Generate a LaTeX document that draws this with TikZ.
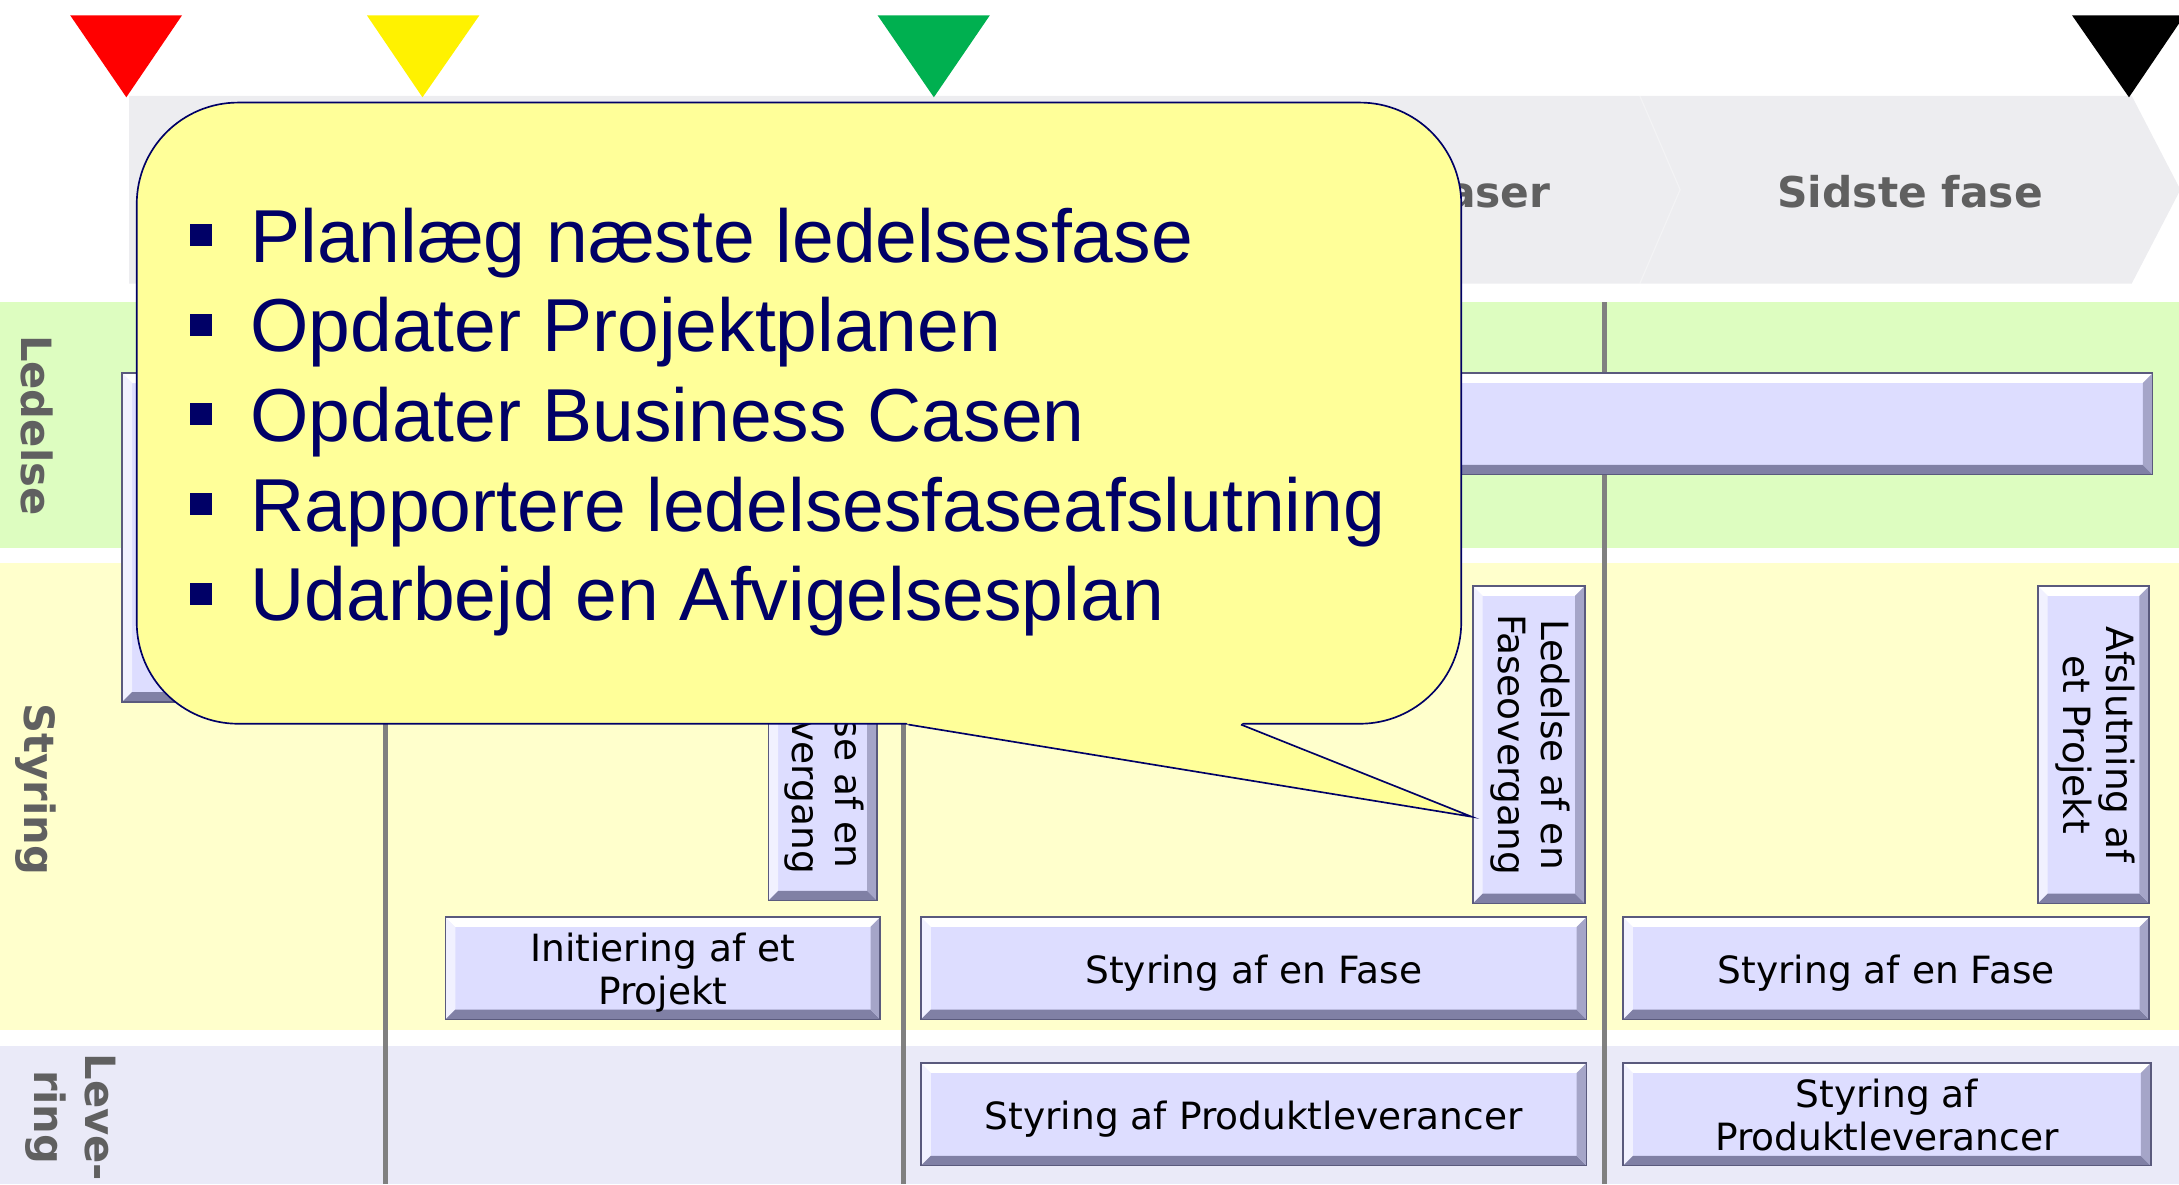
\documentclass[tikz,border=0pt]{standalone}
\usepackage{fontspec}
\usepackage{tikz}
\newfontfamily\notefont{Liberation Sans}
\newfontfamily\boxfont{DejaVu Sans}

\definecolor{bandgrey}{RGB}{237,237,240}
\definecolor{lanegreen}{RGB}{221,253,192}
\definecolor{laneyellow}{RGB}{255,255,204}
\definecolor{lanelilac}{RGB}{234,234,248}
\definecolor{boxfill}{RGB}{221,221,255}
\definecolor{boxline}{RGB}{90,90,125}
\definecolor{bevdark}{RGB}{128,128,165}
\definecolor{bevside}{RGB}{165,165,200}
\definecolor{labelgrey}{RGB}{96,96,96}
\definecolor{notefill}{RGB}{255,255,153}
\definecolor{navy}{RGB}{0,0,102}
\definecolor{msgreen}{RGB}{0,176,80}

\tikzset{
	bevel/.style={path picture={
		\path (path picture bounding box.north west) coordinate (bnw)
			(path picture bounding box.north east) coordinate (bne)
			(path picture bounding box.south west) coordinate (bsw)
			(path picture bounding box.south east) coordinate (bse);
		\fill[white] (bnw) -- (bne) -- ([shift={(-7,-7)}]bne) -- ([shift={(7,-7)}]bnw) -- cycle;
		\fill[white, opacity=.6] (bnw) -- ([shift={(7,-7)}]bnw) -- ([shift={(7,7)}]bsw) -- (bsw) -- cycle;
		\fill[bevdark] (bsw) -- (bse) -- ([shift={(-7,7)}]bse) -- ([shift={(7,7)}]bsw) -- cycle;
		\fill[bevside] (bse) -- (bne) -- ([shift={(-7,-7)}]bne) -- ([shift={(-7,7)}]bse) -- cycle;
	}},
	procbox/.style={draw=boxline, line width=1.2pt, fill=boxfill, bevel, inner sep=0pt, align=center,
		font={\boxfont\fontsize{27}{31}\selectfont}},
	lanelabel/.style={text=labelgrey, rotate=-90, align=center, inner sep=0pt,
		font={\boxfont\bfseries\fontsize{30}{37}\selectfont}},
	phase/.style={text=labelgrey, inner sep=0pt, font={\boxfont\bfseries\fontsize{30.5}{36}\selectfont}},
	stageline/.style={draw=gray, line width=3.6pt},
	bubble/.style={draw=navy, line width=1.2pt, fill=notefill},
	point/.style={text=navy, anchor=base west, inner sep=0pt, font={\notefont\fontsize{54}{64.5}\selectfont}}
}
\newcommand{\sqbullet}{\textcolor{navy}{\rule[11.6pt]{15.8pt}{15.8pt}}\hspace{27.5pt}}
\newcommand{\boxtext}[1]{\begin{tabular}{@{}c@{}}\rule{0pt}{30.5pt}#1\end{tabular}}

\begin{document}
\begin{tikzpicture}[x=1pt, y=1pt]
	\useasboundingbox (0,0) rectangle (1568,-852);

	% phase band
	\fill[bandgrey] (93,-69) -- (1534,-69) -- (1569,-136.5) -- (1534,-204) -- (93,-204) -- cycle;
	\draw[white, line width=0.8pt, opacity=.35] (1180,-69) -- (1209,-136.5) -- (1180,-204);
	\node[phase, anchor=base east] (later) at (1116,-149) {Efterfølgende faser};
	\node[phase, anchor=base] (final) at (1374.5,-149) {Sidste fase};

	% milestones
	\fill[red] (50.5,-11) -- (131,-11) -- (90.9,-70) -- cycle;
	\fill[yellow] (264,-11) -- (345,-11) -- (304,-70) -- cycle;
	\fill[msgreen] (631.5,-11) -- (712.3,-11) -- (672,-70) -- cycle;
	\fill[black] (1491,-11) -- (1572,-11) -- (1532,-70) -- cycle;

	% lanes
	\fill[lanegreen] (0,-217.5) rectangle (1568,-394);
	\fill[laneyellow] (0,-405) rectangle (1568,-741);
	\fill[lanelilac] (0,-752.7) rectangle (1568,-852);
	\node[lanelabel] (dir) at (27,-306) {Ledelse};
	\node[lanelabel] (man) at (25.6,-568) {Styring};
	\node[lanelabel] (del) at (51,-804) {Leve-\\ring};

	% stage boundaries
	\draw[stageline] (277.6,-217.5) -- (277.6,-852);
	\draw[stageline] (649.8,-217.5) -- (649.8,-852);
	\draw[stageline] (1154.3,-217.5) -- (1154.3,-852);

	% processes
	\node[procbox, minimum width=174, minimum height=236.4] (su) at (175,-386.8) {};
	\node[procbox, minimum width=1259, minimum height=73] (dp) at (919.5,-305) {};
	\node[procbox, minimum width=78, minimum height=226.3] (sbA) at (592,-534.9)
		{\rotatebox{-90}{\begin{tabular}{@{}c@{}}Ledelse af en\\Faseovergang\end{tabular}}};
	\node[procbox, minimum width=80.5, minimum height=228.3] (sbB) at (1100.2,-535.9)
		{\rotatebox{-90}{\begin{tabular}{@{}c@{}}Ledelse af en\\Faseovergang\end{tabular}}};
	\node[procbox, minimum width=80, minimum height=228.3] (cp) at (1506.5,-535.9)
		{\rotatebox{-90}{\begin{tabular}{@{}c@{}}Afslutning af\\et Projekt\end{tabular}}};
	\node[procbox, minimum width=312.8, minimum height=73.5] (ip) at (477,-696.8) {\boxtext{Initiering af et\\Projekt}};
	\node[procbox, minimum width=478.8, minimum height=73.5] (csA) at (902.2,-696.8) {\boxtext{Styring af en Fase}};
	\node[procbox, minimum width=378.6, minimum height=73.5] (csB) at (1357.3,-696.8) {\boxtext{Styring af en Fase}};
	\node[procbox, minimum width=478.8, minimum height=73.7] (mpA) at (902.2,-801.9) {\boxtext{Styring af Produktleverancer}};
	\node[procbox, minimum width=379.6, minimum height=73.7] (mpB) at (1357.8,-801.9) {\boxtext{Styring af\\Produktleverancer}};

	% callout
	\node[bubble, rounded corners=73pt, minimum width=953.1, minimum height=447] (note) at (574.95,-297.3) {};
	\coordinate (tailA) at ([xshift=78.75]note.south);
	\coordinate (tailB) at ([xshift=318.05]note.south);
	\coordinate (tip) at (1059,-587.7);
	\fill[notefill] ([shift={(-3,3)}]tailA) -- (tailA) -- (tip) -- (tailB) -- ([shift={(3,3)}]tailB) -- cycle;
	\draw[navy, line width=1.2pt, line join=miter] (tailA) -- (tip) -- (tailB);
	\node[point] (p1) at (136.7,-188.6) {\sqbullet Planlæg næste ledelsesfase};
	\node[point] (p2) at (136.7,-253.1) {\sqbullet Opdater Projektplanen};
	\node[point] (p3) at (136.7,-317.6) {\sqbullet Opdater Business Casen};
	\node[point] (p4) at (136.7,-382.1) {\sqbullet Rapportere ledelsesfaseafslutning};
	\node[point] (p5) at (136.7,-446.6) {\sqbullet Udarbejd en Afvigelsesplan};
\end{tikzpicture}
\end{document}
